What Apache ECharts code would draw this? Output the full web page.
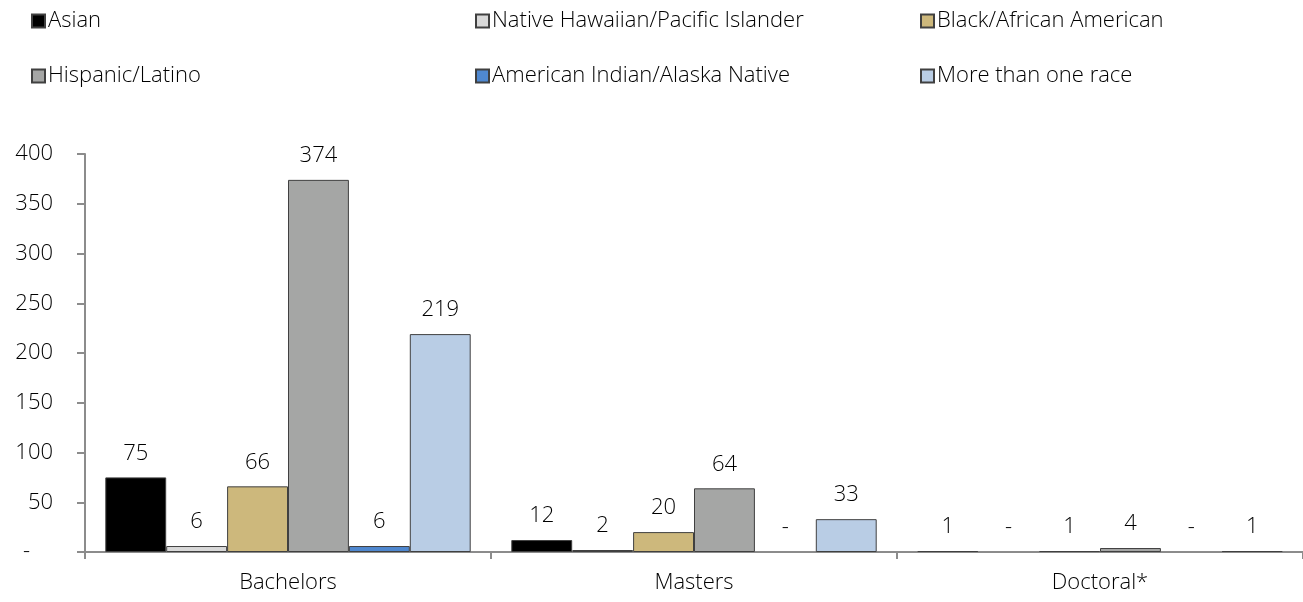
<!DOCTYPE html>
<html>
<head>
<meta charset="utf-8">
<script src="https://cdn.jsdelivr.net/npm/echarts@6/dist/echarts.min.js"></script>
<style>
html,body{margin:0;padding:0;background:#fff;}
#chart{width:1303px;height:602px;}
</style>
</head>
<body>
<div id="chart"></div>
<script>
const categories = ['Bachelors', 'Masters', 'Doctoral*'];
const seriesNames = ['Asian', 'Native Hawaiian/Pacific Islander', 'Black/African American', 'Hispanic/Latino', 'American Indian/Alaska Native', 'More than one race'];
const asian = [75, 12, 1];
const nativeHawaiian = [6, 2, 0];
const black = [66, 20, 1];
const hispanic = [374, 64, 4];
const americanIndian = [6, 0, 0];
const multiRace = [219, 33, 1];
const yTicks = [0, 50, 100, 150, 200, 250, 300, 350, 400];

const values = [asian, nativeHawaiian, black, hispanic, americanIndian, multiRace];
const colors = ['#000000', '#d9d9d9', '#cdb87c', '#a5a6a5', '#4f88d0', '#b9cde5'];
const FONT = '"Open Sans", sans-serif';
const FW = 300;
const FS = 22;

const legendPos = [
  {left: 31, top: 10}, {left: 475, top: 10}, {left: 920, top: 10},
  {left: 31, top: 65}, {left: 475, top: 65}, {left: 920, top: 65}
];

const chart = echarts.init(document.getElementById('chart'), null, {renderer: 'canvas'});
chart.setOption({
  animation: false,
  backgroundColor: '#ffffff',
  legend: seriesNames.map((name, i) => ({
    data: [name],
    left: legendPos[i].left,
    top: legendPos[i].top,
    icon: 'rect',
    itemWidth: 13,
    itemHeight: 13,
    padding: 0,
    textStyle: {fontFamily: FONT, fontWeight: FW, fontSize: FS, color: '#000', padding: [0, 0, 0, -2]}
  })),
  grid: {left: 85, right: 0, top: 154, bottom: 50, containLabel: false},
  xAxis: {
    type: 'category',
    data: categories,
    axisLine: {lineStyle: {color: '#8c8c8c', width: 2}},
    axisTick: {show: true, length: 7, lineStyle: {color: '#8c8c8c', width: 2}},
    axisLabel: {fontFamily: FONT, fontWeight: FW, fontSize: FS, color: '#000', margin: 20}
  },
  yAxis: {
    type: 'value',
    min: 0,
    max: 400,
    interval: 50,
    splitLine: {show: false},
    axisLine: {show: true, lineStyle: {color: '#8c8c8c', width: 2}},
    axisTick: {show: true, length: 8, lineStyle: {color: '#8c8c8c', width: 2}},
    axisLabel: {
      fontFamily: FONT, fontWeight: FW, fontSize: FS, color: '#000', margin: 32,
      formatter: v => (yTicks.includes(v) ? (v === 0 ? '-    ' : String(v)) : '')
    }
  },
  series: seriesNames.map((name, si) => ({
    name: name,
    type: 'bar',
    barGap: '0%',
    barCategoryGap: '10%',
    itemStyle: {color: colors[si], borderColor: '#404040', borderWidth: 1},
    label: {
      show: true,
      position: 'top',
      distance: 13,
      fontFamily: FONT,
      fontWeight: FW,
      fontSize: FS,
      color: '#000',
      formatter: p => (p.value === 0 ? '-' : String(p.value))
    },
    data: values[si].map(v => (v === 0 ? {value: 0, itemStyle: {borderWidth: 0}} : v))
  }))
});
</script>
</body>
</html>
